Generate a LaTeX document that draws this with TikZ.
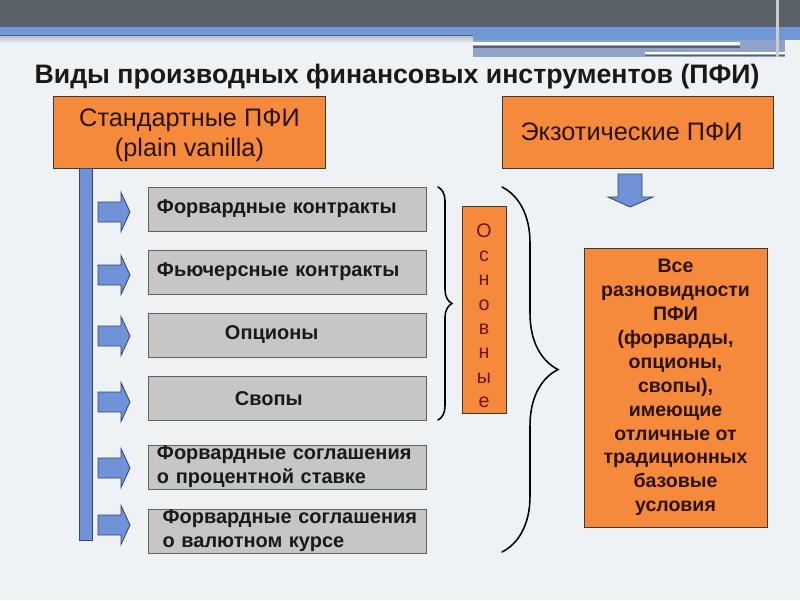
\documentclass[tikz,border=0pt]{standalone}
\usepackage{fontspec}
\setmainfont{Liberation Sans}
\usetikzlibrary{positioning, calc, decorations.pathreplacing}
\definecolor{Slate}{HTML}{5A6169}
\definecolor{Band}{HTML}{7097D6}
\definecolor{BandGrey}{HTML}{8FA2C8}
\definecolor{Haze}{HTML}{B4BDCC}
\definecolor{Paper}{HTML}{EEF2F5}
\definecolor{Orange}{HTML}{F68A3C}
\definecolor{Ink}{HTML}{2B1208}
\definecolor{Maroon}{HTML}{6E1212}
\definecolor{Grey}{HTML}{C6C6C6}
\definecolor{Edge}{HTML}{3A3A3A}
\definecolor{ArrowBlue}{HTML}{6F93D6}
\definecolor{ArrowEdge}{HTML}{34456E}
\tikzset{
    orangebox/.style={rectangle, draw=Edge, fill=Orange, text=Ink, align=center, inner sep=0pt},
    greybox/.style={rectangle, draw=Edge!80, fill=Grey, text=black!90, minimum width=6.95cm, minimum height=1.1cm, text width=6.5cm, inner sep=0pt, align=left, font=\bfseries\fontsize{14.2}{17}\selectfont},
    blockarrow/.style={fill=ArrowBlue, draw=ArrowEdge, line width=0.6pt},
    bracket/.style={decorate, line width=1.1pt, line cap=round},
}

\begin{document}
\begin{tikzpicture}[x=0.025cm, y=-0.025cm]
    % slide background and banner
    \fill[Paper] (0,0) rectangle (800,600);
    \useasboundingbox (0,0) rectangle (800,600);
    \fill[Slate] (0,0) rectangle (800,27);
    \fill[Band] (0,27) rectangle (800,40);
    \fill[BandGrey] (473,40) rectangle (785,57);
    \fill[Slate] (0,34.5) rectangle (473,36);
    \fill[top color=Haze, bottom color=Paper] (0,36) rectangle (473,43);
    \fill[white] (473,42) rectangle (740,45);
    \fill[Slate] (473,46) rectangle (740,47.5);
    \fill[white] (645,52) rectangle (785,54);
    \fill[Slate] (645,54.5) rectangle (785,55.5);
    \fill[black!20] (776,0) rectangle (779,57);

    \node[font=\bfseries\fontsize{19}{21}\selectfont, text=black!90] (title) at (397,77) {Виды производных финансовых инструментов (ПФИ)};

    % the two families
    \node[orangebox, minimum width=6.8cm, minimum height=1.8cm, font=\fontsize{18}{21.6}\selectfont] (std) at (189.5,132) {\rule{0pt}{17.5pt}Стандартные ПФИ\\(plain vanilla)};
    \node[orangebox, minimum width=6.775cm, minimum height=1.8cm, font=\fontsize{18}{21.3}\selectfont] (exo) at (637.5,132) {\hspace*{-0.3cm}Экзотические ПФИ};

    % spine with arrows
    \draw[blockarrow] (79,168) rectangle (92,540);
    \foreach \y in {212,275,336,402,468,525}
        \draw[blockarrow] (98,\y-10) -- (121,\y-10) -- (121,\y-19.5) -- (130,\y) -- (121,\y+19.5) -- (121,\y+10) -- (98,\y+10) -- cycle;

    \node[greybox] (fwd) at (287,209) {Форвардные контракты};
    \node[greybox] (fut) at (287,272) {Фьючерсные контракты};
    \node[greybox] (opt) at (287,335) {\hspace*{1.7cm}Опционы};
    \node[greybox] (swp) at (287,398.5) {\hspace*{1.95cm}Свопы};
    \node[greybox] (fra) at (287,467) {Форвардные соглашения\\о процентной ставке};
    \node[greybox] (fxa) at (287,531) {\hspace*{0.14cm}Форвардные соглашения\\\hspace*{0.14cm}о валютном курсе};

    % braces
    \draw[bracket, decoration={brace, amplitude=0.35cm}] (438,187) -- (438,420);
    \node[orangebox, minimum width=1.1cm, minimum height=5.175cm, text=Maroon, font=\fontsize{14}{17.3}\selectfont] (main) at (484,309.5) {\rule{0pt}{18.5pt}О\\с\\н\\о\\в\\н\\ы\\е};
    \draw[bracket, decoration={brace, amplitude=1.4cm}] (502,187) -- (502,552);

    % exotic side
    \draw[blockarrow] (618,174) -- (642,174) -- (642,197) -- (653,197) -- (630,207) -- (608,197) -- (618,197) -- cycle;
    \node[orangebox, minimum width=4.575cm, minimum height=6.975cm, font=\bfseries\fontsize{13.9}{17}\selectfont] (all) at (675.5,387.5) {Все\\разновидности\\ПФИ\\(форварды,\\опционы,\\свопы),\\имеющие\\отличные от\\традиционных\\базовые\\условия};
\end{tikzpicture}
\end{document}
